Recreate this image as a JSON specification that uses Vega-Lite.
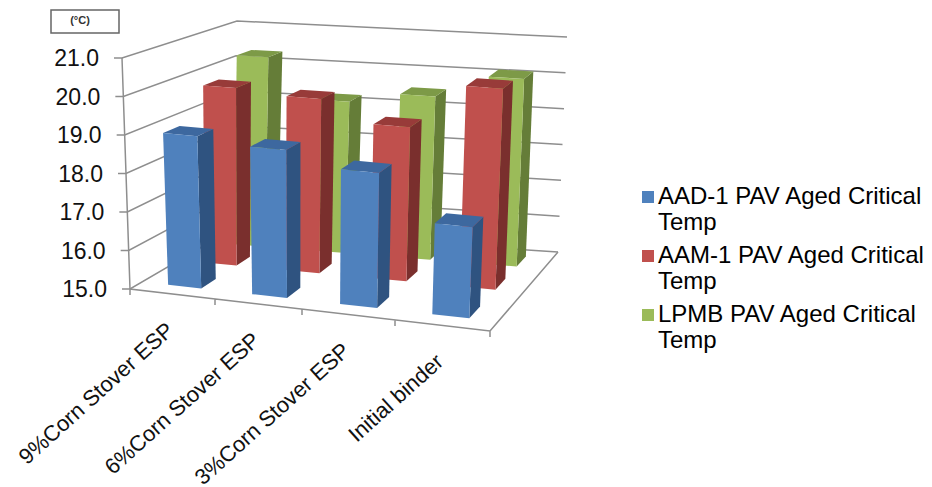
{
"$schema":"https://vega.github.io/schema/vega-lite/v6.json",
"width":932,"height":487,
"autosize":{"type":"fit","contains":"padding"},
"padding":0,
"background":"white",
"config":{"view":{"stroke":null},"text":{"font":"Liberation Sans"}},
"datasets":{
"bars":[
{"category":"9%Corn Stover ESP","series":"LPMB PAV Aged Critical Temp","value":20.3},
{"category":"6%Corn Stover ESP","series":"LPMB PAV Aged Critical Temp","value":19.2},
{"category":"3%Corn Stover ESP","series":"LPMB PAV Aged Critical Temp","value":19.5},
{"category":"Initial binder","series":"LPMB PAV Aged Critical Temp","value":20.13},
{"category":"9%Corn Stover ESP","series":"AAM-1 PAV Aged Critical Temp","value":19.81},
{"category":"6%Corn Stover ESP","series":"AAM-1 PAV Aged Critical Temp","value":19.69},
{"category":"3%Corn Stover ESP","series":"AAM-1 PAV Aged Critical Temp","value":19.12},
{"category":"Initial binder","series":"AAM-1 PAV Aged Critical Temp","value":20.33},
{"category":"9%Corn Stover ESP","series":"AAD-1 PAV Aged Critical Temp","value":18.98},
{"category":"6%Corn Stover ESP","series":"AAD-1 PAV Aged Critical Temp","value":18.84},
{"category":"3%Corn Stover ESP","series":"AAD-1 PAV Aged Critical Temp","value":18.48},
{"category":"Initial binder","series":"AAD-1 PAV Aged Critical Temp","value":17.33}
],
"ticks":[{"t":15},{"t":16},{"t":17},{"t":18},{"t":19},{"t":20},{"t":21}]
},
"layer":[
{
"data":{"name":"ticks"},
"transform":[
{"calculate":"(datum.t-15)/6","as":"h"},
{"calculate":"130-8*datum.h","as":"ax"},
{"calculate":"289-231*datum.h","as":"ay"},
{"calculate":"{type:'Feature',properties:{},geometry:{type:'LineString',coordinates:[[datum.ax-8,datum.ay],[datum.ax,datum.ay],[231+6*datum.h,230-209*datum.h],[558+9*datum.h,252-215*datum.h]]}}","as":"geo"}
],
"projection":{"type":"identity","scale":1,"translate":[0,0]},
"mark":{"type":"geoshape","filled":false,"stroke":"#8e8e8e","strokeWidth":1.5},
"encoding":{"shape":{"field":"geo","type":"geojson"}}
},
{
"data":{"values":[{"frame":"axes"}]},
"transform":[
{"calculate":"{type:'Feature',properties:{},geometry:{type:'MultiLineString',coordinates:[[[122,58],[130,289],[490,331],[558,252]],[[130,289],[130,295]],[[215,299],[215,305]],[[302,309],[302,315]],[[395,320],[395,326]],[[490,331],[490,337]]]}}","as":"geo"}
],
"projection":{"type":"identity","scale":1,"translate":[0,0]},
"mark":{"type":"geoshape","filled":false,"stroke":"#8e8e8e","strokeWidth":1.5},
"encoding":{"shape":{"field":"geo","type":"geojson"}}
},
{
"data":{"name":"bars"},
"transform":[
{"calculate":"indexof(['9%Corn Stover ESP','6%Corn Stover ESP','3%Corn Stover ESP','Initial binder'],datum.category)","as":"ci"},
{"calculate":"indexof(['AAD-1 PAV Aged Critical Temp','AAM-1 PAV Aged Critical Temp','LPMB PAV Aged Critical Temp'],datum.series)","as":"si"},
{"calculate":"[0.073,0.309,0.556,0.815][datum.ci]","as":"u0"},
{"calculate":"[0.166,0.407,0.66,0.919][datum.ci]","as":"u1"},
{"calculate":"[0.12,0.49,0.79][datum.si]","as":"v0"},
{"calculate":"[0.272,0.63,0.92][datum.si]","as":"v1"},
{"calculate":"(datum.value-15)/6","as":"h"},
{"calculate":"[(1-datum.v0)*((1-datum.u0)*130+datum.u0*490)+datum.v0*((1-datum.u0)*231+datum.u0*558),(1-datum.v0)*((1-datum.u0)*289+datum.u0*331)+datum.v0*((1-datum.u0)*230+datum.u0*252)]","as":"b1"},
{"calculate":"[(1-datum.v0)*((1-datum.u1)*130+datum.u1*490)+datum.v0*((1-datum.u1)*231+datum.u1*558),(1-datum.v0)*((1-datum.u1)*289+datum.u1*331)+datum.v0*((1-datum.u1)*230+datum.u1*252)]","as":"b2"},
{"calculate":"[(1-datum.v1)*((1-datum.u1)*130+datum.u1*490)+datum.v1*((1-datum.u1)*231+datum.u1*558),(1-datum.v1)*((1-datum.u1)*289+datum.u1*331)+datum.v1*((1-datum.u1)*230+datum.u1*252)]","as":"b3"},
{"calculate":"130-11*datum.h","as":"ax"},{"calculate":"289-231*datum.h","as":"ay"},
{"calculate":"490+10*datum.h","as":"bx"},{"calculate":"331-238*datum.h","as":"by"},
{"calculate":"558+9*datum.h","as":"cx"},{"calculate":"252-215*datum.h","as":"cy"},
{"calculate":"231+6*datum.h","as":"dx"},{"calculate":"230-209*datum.h","as":"dy"},
{"calculate":"[(1-datum.v0)*((1-datum.u0)*datum.ax+datum.u0*datum.bx)+datum.v0*((1-datum.u0)*datum.dx+datum.u0*datum.cx),(1-datum.v0)*((1-datum.u0)*datum.ay+datum.u0*datum.by)+datum.v0*((1-datum.u0)*datum.dy+datum.u0*datum.cy)]","as":"t1"},
{"calculate":"[(1-datum.v0)*((1-datum.u1)*datum.ax+datum.u1*datum.bx)+datum.v0*((1-datum.u1)*datum.dx+datum.u1*datum.cx),(1-datum.v0)*((1-datum.u1)*datum.ay+datum.u1*datum.by)+datum.v0*((1-datum.u1)*datum.dy+datum.u1*datum.cy)]","as":"t2"},
{"calculate":"[(1-datum.v1)*((1-datum.u1)*datum.ax+datum.u1*datum.bx)+datum.v1*((1-datum.u1)*datum.dx+datum.u1*datum.cx),(1-datum.v1)*((1-datum.u1)*datum.ay+datum.u1*datum.by)+datum.v1*((1-datum.u1)*datum.dy+datum.u1*datum.cy)]","as":"t3"},
{"calculate":"[(1-datum.v1)*((1-datum.u0)*datum.ax+datum.u0*datum.bx)+datum.v1*((1-datum.u0)*datum.dx+datum.u0*datum.cx),(1-datum.v1)*((1-datum.u0)*datum.ay+datum.u0*datum.by)+datum.v1*((1-datum.u0)*datum.dy+datum.u0*datum.cy)]","as":"t4"},
{"calculate":"['side','top','front']","as":"face"},
{"flatten":["face"]},
{"calculate":"datum.face=='front'?datum.series:datum.series+' '+datum.face","as":"fill"},
{"calculate":"{type:'Feature',properties:{},geometry:{type:'Polygon',coordinates:[datum.face=='front'?[datum.b1,datum.t1,datum.t2,datum.b2,datum.b1]:datum.face=='side'?[datum.b2,datum.t2,datum.t3,datum.b3,datum.b2]:[datum.t1,datum.t2,datum.t3,datum.t4,datum.t1]]}}","as":"geo"}
],
"projection":{"type":"identity","scale":1,"translate":[0,0]},
"mark":{"type":"geoshape","strokeWidth":0},
"encoding":{
"shape":{"field":"geo","type":"geojson"},
"color":{"field":"fill","type":"nominal",
"scale":{
"domain":["AAD-1 PAV Aged Critical Temp","AAM-1 PAV Aged Critical Temp","LPMB PAV Aged Critical Temp","AAD-1 PAV Aged Critical Temp side","AAM-1 PAV Aged Critical Temp side","LPMB PAV Aged Critical Temp side","AAD-1 PAV Aged Critical Temp top","AAM-1 PAV Aged Critical Temp top","LPMB PAV Aged Critical Temp top"],
"range":["#4F81BD","#C0504D","#9BBB59","#2F5380","#7A2F2D","#657D38","#3D689F","#983B39","#7D9A47"]},
"legend":{"orient":"none","legendX":636,"legendY":185,"title":null,
"values":["AAD-1 PAV Aged Critical Temp","AAM-1 PAV Aged Critical Temp","LPMB PAV Aged Critical Temp"],
"symbolType":"square","symbolSize":144,"symbolStrokeWidth":0,"rowPadding":9,
"labelFont":"Liberation Sans","labelFontSize":24,"labelColor":"#000000","labelOffset":-2,"labelLimit":320,
"labelExpr":"split(replace(datum.label,' Critical ',' Critical|'),'|')",
"encode":{"labels":{"update":{"lineHeight":{"value":26}}}}}}
}
},
{
"data":{"name":"ticks"},
"transform":[
{"calculate":"(datum.t-15)/6","as":"h"},
{"calculate":"130-8*datum.h-23","as":"lx"},
{"calculate":"289-231*datum.h+1","as":"ly"},
{"calculate":"format(datum.t,'.1f')","as":"lab"}
],
"mark":{"type":"text","align":"right","baseline":"middle","fontSize":23,"font":"Liberation Sans","color":"#111111"},
"encoding":{
"x":{"field":"lx","type":"quantitative","scale":{"domain":[0,932],"range":[0,932]},"axis":null},
"y":{"field":"ly","type":"quantitative","scale":{"domain":[0,487],"range":[0,487]},"axis":null},
"text":{"field":"lab"}
}
},
{
"data":{"name":"bars"},
"transform":[
{"filter":"indexof(datum.series,'AAD')==0"},
{"calculate":"indexof(['9%Corn Stover ESP','6%Corn Stover ESP','3%Corn Stover ESP','Initial binder'],datum.category)","as":"ci"},
{"calculate":"[0.118,0.357,0.607,0.867][datum.ci]","as":"um"},
{"calculate":"130+360*datum.um-2","as":"lx"},
{"calculate":"289+42*datum.um+33","as":"ly"}
],
"mark":{"type":"text","align":"right","baseline":"middle","angle":318,"fontSize":22,"font":"Liberation Sans","color":"#111111"},
"encoding":{
"x":{"field":"lx","type":"quantitative","scale":{"domain":[0,932],"range":[0,932]},"axis":null},
"y":{"field":"ly","type":"quantitative","scale":{"domain":[0,487],"range":[0,487]},"axis":null},
"text":{"field":"category"}
}
},
{
"data":{"values":[{"x0":51,"x1":119,"y0":10,"y1":33}]},
"mark":{"type":"rect","fill":"white","stroke":"#666666","strokeWidth":1.5},
"encoding":{
"x":{"field":"x0","type":"quantitative","scale":{"domain":[0,932],"range":[0,932]},"axis":null},
"x2":{"field":"x1"},
"y":{"field":"y0","type":"quantitative","scale":{"domain":[0,487],"range":[0,487]},"axis":null},
"y2":{"field":"y1"}
}
},
{
"data":{"values":[{"unit":"(°C)","cx":80,"cy":21}]},
"mark":{"type":"text","fontSize":11,"fontWeight":"bold","font":"Liberation Sans","color":"#333333"},
"encoding":{
"x":{"field":"cx","type":"quantitative","scale":{"domain":[0,932],"range":[0,932]},"axis":null},
"y":{"field":"cy","type":"quantitative","scale":{"domain":[0,487],"range":[0,487]},"axis":null},
"text":{"field":"unit"}
}
}
]
}
